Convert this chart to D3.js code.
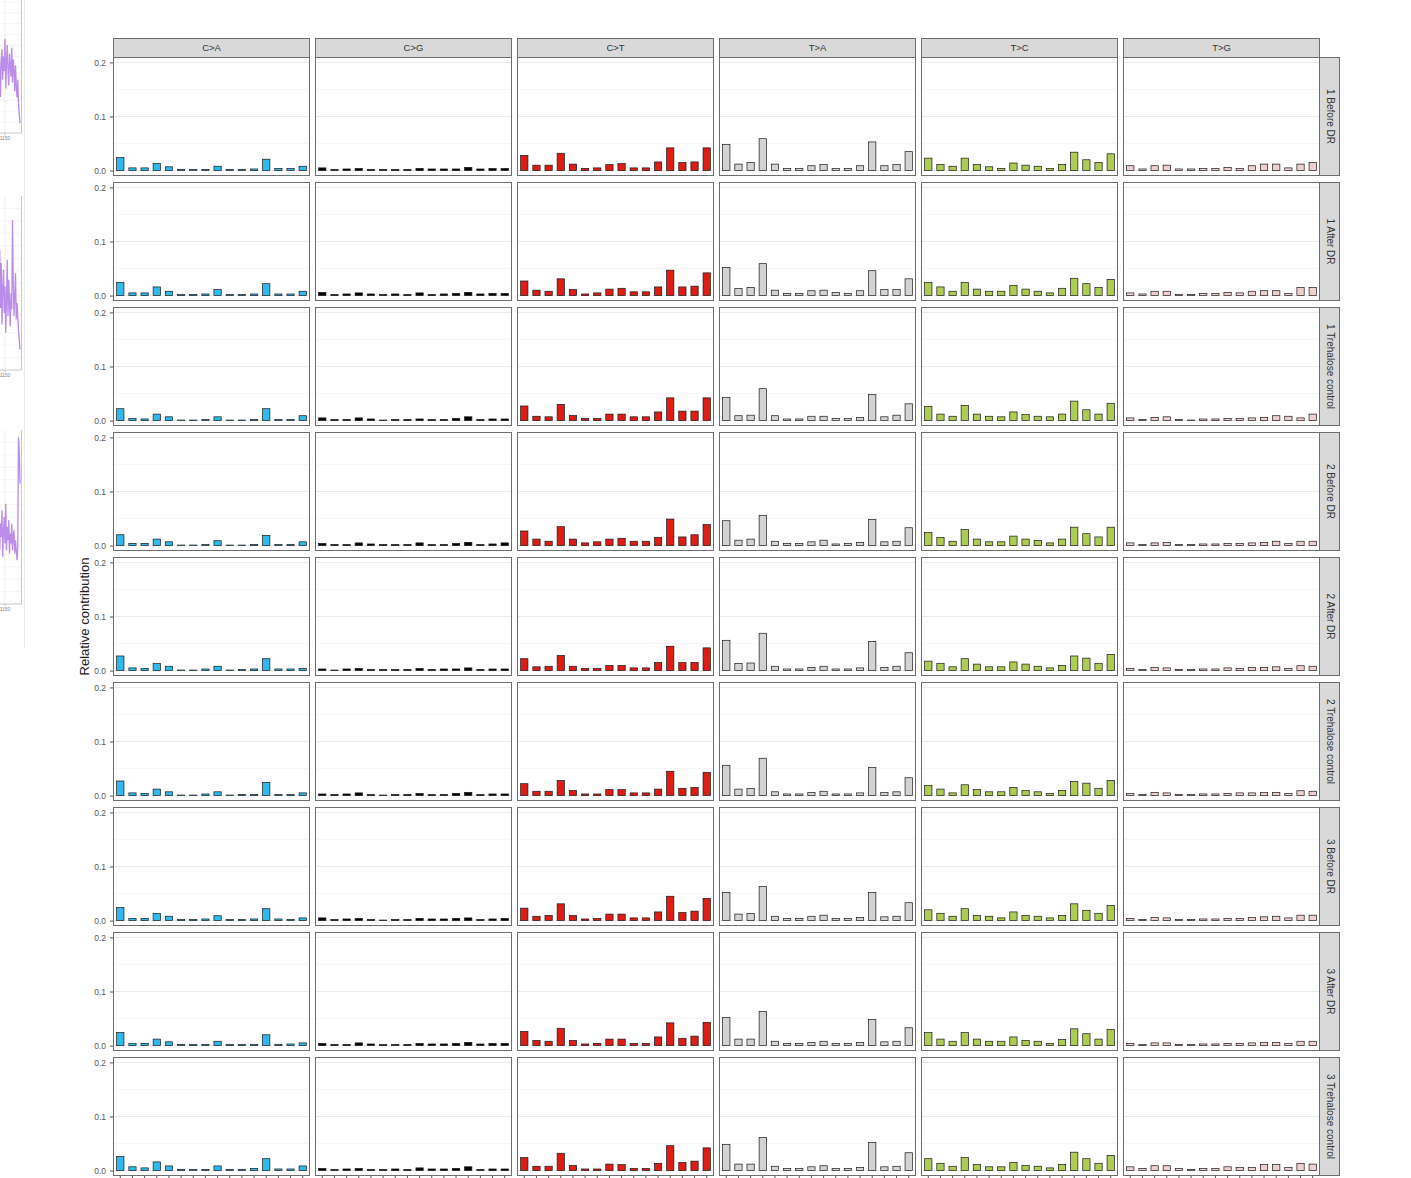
<!DOCTYPE html>
<html>
<head>
<meta charset="utf-8">
<script src="https://cdn.jsdelivr.net/npm/d3@7"></script>
<style>
  html, body { margin: 0; padding: 0; background: #fff; }
  svg { display: block; font-family: "Liberation Sans", Arial, sans-serif; }
</style>
</head>
<body>
<svg id="chart" width="1411" height="1178"></svg>
<script>
// ---- categories ----
const mutationTypes = ["C>A", "C>G", "C>T", "T>A", "T>C", "T>G"];
const typeColors = ["#2EBAED", "#000000", "#DE1C14", "#D4D2D2", "#ADCC54", "#F0D0CE"];
const samples = ["1 Before DR", "1 After DR", "1 Trehalose control",
                 "2 Before DR", "2 After DR", "2 Trehalose control",
                 "3 Before DR", "3 After DR", "3 Trehalose control"];
const contexts = ["A.A", "A.C", "A.G", "A.T", "C.A", "C.C", "C.G", "C.T",
                  "G.A", "G.C", "G.G", "G.T", "T.A", "T.C", "T.G", "T.T"];
const yTicks = [0, 0.1, 0.2];
const yMinor = [0.05, 0.15];

// ---- relative contribution per sample, 16 contexts for each of the six types ----
const before1 = [
  0.024,0.005,0.005,0.013,0.007,0.002,0.002,0.002,0.008,0.002,0.002,0.003,0.021,0.004,0.004,0.008,
  0.005,0.002,0.003,0.004,0.002,0.002,0.002,0.002,0.004,0.003,0.003,0.003,0.006,0.003,0.004,0.004,
  0.028,0.010,0.010,0.032,0.012,0.004,0.005,0.011,0.013,0.005,0.005,0.016,0.042,0.015,0.016,0.042,
  0.048,0.012,0.015,0.059,0.012,0.004,0.004,0.009,0.011,0.004,0.004,0.009,0.053,0.009,0.011,0.035,
  0.023,0.011,0.008,0.023,0.011,0.007,0.004,0.014,0.010,0.008,0.004,0.011,0.034,0.020,0.015,0.031,
  0.009,0.003,0.009,0.010,0.003,0.003,0.004,0.004,0.006,0.004,0.009,0.012,0.012,0.005,0.012,0.015];
const after1 = [
  0.024,0.005,0.005,0.016,0.008,0.002,0.002,0.003,0.011,0.002,0.002,0.003,0.022,0.003,0.003,0.008,
  0.006,0.002,0.003,0.005,0.003,0.002,0.003,0.002,0.005,0.002,0.003,0.004,0.006,0.003,0.004,0.004,
  0.027,0.010,0.008,0.031,0.011,0.003,0.005,0.012,0.0135,0.007,0.007,0.016,0.047,0.016,0.0175,0.042,
  0.052,0.013,0.015,0.059,0.010,0.004,0.004,0.009,0.010,0.006,0.004,0.009,0.046,0.011,0.011,0.031,
  0.024,0.016,0.008,0.024,0.012,0.008,0.008,0.019,0.012,0.008,0.005,0.0135,0.032,0.022,0.015,0.030,
  0.005,0.003,0.008,0.008,0.002,0.002,0.004,0.004,0.006,0.005,0.008,0.009,0.009,0.004,0.015,0.015];
const trehalose1 = [
  0.022,0.004,0.003,0.012,0.007,0.001,0.001,0.002,0.007,0.001,0.001,0.002,0.022,0.002,0.002,0.009,
  0.005,0.002,0.002,0.005,0.003,0.001,0.002,0.002,0.003,0.002,0.002,0.004,0.007,0.002,0.003,0.003,
  0.027,0.008,0.007,0.030,0.0095,0.004,0.004,0.012,0.012,0.007,0.007,0.016,0.042,0.0175,0.0175,0.042,
  0.043,0.009,0.010,0.059,0.009,0.003,0.003,0.008,0.008,0.004,0.004,0.006,0.048,0.007,0.010,0.031,
  0.026,0.012,0.008,0.028,0.012,0.008,0.007,0.016,0.011,0.008,0.007,0.012,0.036,0.020,0.012,0.032,
  0.005,0.002,0.006,0.007,0.002,0.001,0.003,0.003,0.004,0.004,0.005,0.006,0.009,0.008,0.005,0.012];
const before2 = [
  0.020,0.004,0.004,0.012,0.007,0.001,0.001,0.002,0.009,0.001,0.001,0.002,0.019,0.002,0.002,0.007,
  0.004,0.002,0.002,0.005,0.003,0.002,0.002,0.002,0.005,0.002,0.002,0.004,0.006,0.002,0.003,0.005,
  0.027,0.012,0.008,0.035,0.012,0.005,0.007,0.012,0.0135,0.008,0.008,0.015,0.049,0.016,0.020,0.039,
  0.046,0.010,0.012,0.056,0.008,0.004,0.004,0.007,0.010,0.003,0.004,0.006,0.048,0.007,0.008,0.033,
  0.024,0.015,0.008,0.030,0.012,0.007,0.007,0.0175,0.012,0.0095,0.005,0.012,0.034,0.022,0.016,0.034,
  0.005,0.002,0.005,0.006,0.002,0.002,0.003,0.003,0.004,0.004,0.005,0.006,0.008,0.004,0.008,0.008];
const after2 = [
  0.027,0.005,0.004,0.013,0.008,0.001,0.001,0.003,0.008,0.001,0.002,0.003,0.022,0.003,0.003,0.004,
  0.003,0.001,0.003,0.004,0.002,0.002,0.002,0.002,0.004,0.002,0.003,0.003,0.005,0.002,0.003,0.003,
  0.022,0.007,0.008,0.028,0.008,0.004,0.004,0.0095,0.0095,0.005,0.005,0.015,0.045,0.015,0.015,0.042,
  0.056,0.013,0.014,0.069,0.008,0.003,0.003,0.006,0.008,0.003,0.003,0.005,0.054,0.006,0.008,0.033,
  0.0175,0.0135,0.007,0.022,0.012,0.007,0.007,0.016,0.012,0.008,0.005,0.0095,0.027,0.023,0.0135,0.030,
  0.004,0.002,0.006,0.005,0.002,0.002,0.003,0.003,0.005,0.004,0.006,0.006,0.007,0.004,0.009,0.008];
const trehalose2 = [
  0.027,0.005,0.004,0.012,0.007,0.001,0.001,0.003,0.007,0.001,0.002,0.002,0.024,0.002,0.002,0.005,
  0.003,0.002,0.003,0.005,0.002,0.001,0.002,0.002,0.004,0.002,0.002,0.004,0.006,0.002,0.003,0.003,
  0.022,0.008,0.008,0.028,0.0095,0.003,0.003,0.011,0.011,0.005,0.005,0.012,0.045,0.0135,0.015,0.043,
  0.056,0.012,0.013,0.069,0.007,0.003,0.003,0.006,0.008,0.003,0.003,0.005,0.052,0.006,0.007,0.033,
  0.019,0.012,0.005,0.020,0.011,0.007,0.007,0.015,0.0095,0.007,0.004,0.0095,0.026,0.023,0.0135,0.028,
  0.004,0.002,0.006,0.005,0.002,0.002,0.003,0.003,0.004,0.005,0.005,0.006,0.006,0.004,0.009,0.008];
const before3 = [
  0.024,0.004,0.004,0.013,0.008,0.002,0.002,0.003,0.009,0.002,0.002,0.003,0.022,0.003,0.002,0.005,
  0.005,0.002,0.003,0.004,0.002,0.001,0.002,0.002,0.004,0.003,0.003,0.004,0.005,0.002,0.003,0.004,
  0.023,0.008,0.0095,0.031,0.0095,0.003,0.004,0.012,0.012,0.005,0.005,0.016,0.045,0.015,0.0175,0.041,
  0.052,0.012,0.013,0.063,0.008,0.004,0.004,0.008,0.010,0.004,0.004,0.006,0.052,0.007,0.008,0.033,
  0.020,0.0135,0.008,0.022,0.0095,0.008,0.005,0.016,0.0095,0.008,0.005,0.0095,0.031,0.019,0.0135,0.028,
  0.004,0.002,0.006,0.005,0.002,0.002,0.003,0.003,0.004,0.004,0.006,0.007,0.008,0.005,0.010,0.010];
const after3 = [
  0.024,0.004,0.004,0.012,0.007,0.002,0.002,0.002,0.008,0.002,0.002,0.002,0.020,0.002,0.003,0.005,
  0.004,0.002,0.002,0.005,0.003,0.002,0.002,0.002,0.004,0.003,0.003,0.004,0.006,0.003,0.004,0.004,
  0.026,0.0095,0.008,0.032,0.0095,0.003,0.004,0.012,0.012,0.004,0.004,0.016,0.042,0.0135,0.0175,0.043,
  0.052,0.012,0.012,0.063,0.008,0.004,0.004,0.006,0.008,0.004,0.004,0.006,0.048,0.007,0.008,0.033,
  0.024,0.012,0.008,0.024,0.012,0.008,0.008,0.016,0.0095,0.008,0.004,0.011,0.031,0.022,0.012,0.030,
  0.004,0.002,0.005,0.005,0.002,0.002,0.003,0.003,0.004,0.004,0.005,0.006,0.006,0.004,0.008,0.008];
const trehalose3 = [
  0.026,0.007,0.005,0.016,0.0086,0.002,0.002,0.002,0.0086,0.002,0.002,0.004,0.022,0.003,0.003,0.0086,
  0.004,0.002,0.003,0.004,0.002,0.002,0.003,0.002,0.005,0.003,0.003,0.004,0.007,0.002,0.003,0.003,
  0.024,0.008,0.008,0.032,0.0095,0.003,0.003,0.012,0.011,0.004,0.004,0.0135,0.046,0.015,0.0175,0.042,
  0.048,0.012,0.012,0.061,0.008,0.004,0.004,0.007,0.009,0.004,0.004,0.006,0.052,0.007,0.008,0.033,
  0.022,0.0135,0.008,0.024,0.011,0.007,0.007,0.015,0.0095,0.008,0.005,0.011,0.034,0.022,0.0135,0.028,
  0.007,0.004,0.009,0.009,0.004,0.002,0.004,0.004,0.007,0.006,0.006,0.011,0.011,0.006,0.013,0.012];
const sampleValues = [before1, after1, trehalose1, before2, after2, trehalose2, before3, after3, trehalose3];

// ---- traces of the neighbouring figure on the left margin ----
const traceX = [1139,1139.5,1140,1140.5,1141,1141.5,1142,1142.5,1143,1143.5,1144,1144.5,1145,1145.5,
                1146,1146.5,1147,1147.5,1148,1148.5,1149,1149.5,1150,1150.5,1151,1151.5,1152,1152.5,
                1153,1153.5,1154,1154.5,1155,1155.5,1156,1156.5,1157,1157.5,1158,1158.5,1159,1159.5,1160];
const traceA = [0.92,0.80,0.86,0.66,0.74,0.58,0.70,0.50,0.62,0.44,0.68,0.36,0.56,0.30,0.60,0.42,0.22,0.48,0.55,0.34,
                0.50,0.40,0.62,0.28,0.46,0.58,0.40,0.30,0.52,0.44,0.36,0.56,0.32,0.48,0.40,0.26,0.44,0.30,0.22,0.34,
                0.18,0.10,0.04];
const traceB = [0.50,0.72,0.40,0.85,0.55,0.30,0.66,0.48,0.78,0.36,0.60,0.92,0.45,0.28,0.52,0.70,0.35,0.62,0.25,0.46,
                0.58,0.32,0.48,0.20,0.40,0.64,0.30,0.52,0.38,0.24,0.44,0.34,0.88,0.50,0.30,0.42,0.56,0.28,0.38,0.30,
                0.22,0.16,0.10];
const traceC = [0.40,0.58,0.30,0.50,0.66,0.36,0.52,0.44,0.72,0.34,0.48,0.28,0.56,0.40,0.62,0.30,0.46,0.38,0.54,0.26,
                0.42,0.50,0.34,0.58,0.30,0.44,0.36,0.48,0.28,0.40,0.34,0.46,0.30,0.38,0.42,0.28,0.36,0.30,0.24,0.32,
                0.98,0.90,0.70];

const svg = d3.select("#chart");

// layout of the facet grid
const gridLeft = 113, gridTop = 57;
const panelW = 197, panelH = 119, gapX = 5, gapY = 6;
const stripH = 19, stripW = 20;

const x = d3.scaleBand().domain(contexts).range([0, panelW]).paddingInner(0.4).paddingOuter(0.3);
const y = d3.scaleLinear().domain([-0.01, 0.21]).range([panelH, 0]);

// left-margin traces
const traces = [
  { top: -20, h: 153, values: traceA },
  { top: 196, h: 174, values: traceB },
  { top: 430, h: 174, values: traceC }
];
const tx = d3.scaleLinear().domain([1150, 1160]).range([5, 20]);
svg.append("line").attr("x1", 24.5).attr("x2", 24.5).attr("y1", 0).attr("y2", 648)
  .attr("stroke", "#ececec").attr("stroke-width", 1);
traces.forEach(t => {
  const g = svg.append("g").attr("transform", `translate(0,${t.top})`);
  const ty = d3.scaleLinear().domain([0, 1]).range([t.h - 4, 4]);
  for (let k = 1; k < 14; k++) {
    g.append("line").attr("x1", 0).attr("x2", 21).attr("y1", t.h * k / 14).attr("y2", t.h * k / 14)
      .attr("stroke", "#eeeeee").attr("stroke-width", 0.6);
  }
  g.append("line").attr("x1", tx(1150)).attr("x2", tx(1150)).attr("y1", 0).attr("y2", t.h)
    .attr("stroke", "#e6e6e6").attr("stroke-width", 0.6);
  g.append("path").datum(d3.zip(traceX, t.values))
    .attr("fill", "none").attr("stroke", "#b47fe8").attr("stroke-width", 1.3).attr("opacity", 0.9)
    .attr("d", d3.line().x(d => tx(d[0])).y(d => ty(d[1])));
  g.append("path").attr("d", `M0,${t.h}H21.5V0`).attr("fill", "none")
    .attr("stroke", "#bdbdbd").attr("stroke-width", 0.8);
  g.append("line").attr("x1", tx(1150)).attr("x2", tx(1150)).attr("y1", t.h).attr("y2", t.h + 2)
    .attr("stroke", "#999").attr("stroke-width", 0.6);
  g.append("text").attr("x", tx(1150)).attr("y", t.h + 7).attr("text-anchor", "middle")
    .attr("font-size", 5).attr("fill", "#888").text("1150");
});

// facet panels
samples.forEach((sample, r) => {
  const vals = sampleValues[r];
  mutationTypes.forEach((type, c) => {
    const px = gridLeft + c * (panelW + gapX);
    const py = gridTop + r * (panelH + gapY);
    const g = svg.append("g").attr("transform", `translate(${px},${py})`);

    g.append("rect").attr("width", panelW).attr("height", panelH).attr("fill", "#fff");
    g.selectAll("line.minor").data(yMinor).join("line").attr("class", "minor")
      .attr("x1", 0).attr("x2", panelW).attr("y1", d => y(d)).attr("y2", d => y(d))
      .attr("stroke", "#f2f2f2").attr("stroke-width", 0.6);
    g.selectAll("line.major").data(yTicks).join("line").attr("class", "major")
      .attr("x1", 0).attr("x2", panelW).attr("y1", d => y(d)).attr("y2", d => y(d))
      .attr("stroke", "#ebebeb").attr("stroke-width", 1);

    const data = contexts.map((ctx, i) => ({ ctx, v: vals[c * 16 + i] }));
    g.selectAll("rect.bar").data(data).join("rect").attr("class", "bar")
      .attr("x", d => x(d.ctx)).attr("width", x.bandwidth())
      .attr("y", d => y(d.v)).attr("height", d => y(0) - y(d.v))
      .attr("fill", typeColors[c]).attr("stroke", "#1a1a1a").attr("stroke-width", 0.7);

    g.append("rect").attr("x", 0.5).attr("y", 0.5).attr("width", panelW - 1).attr("height", panelH - 1)
      .attr("fill", "none").attr("stroke", "#6e6e6e").attr("stroke-width", 1);

    if (c === 0) {
      const ax = g.append("g").call(d3.axisLeft(y).tickValues(yTicks).tickFormat(d3.format(".1f")).tickSize(3));
      ax.select(".domain").remove();
      ax.selectAll("line").attr("stroke", "#555");
      ax.selectAll("text").attr("fill", "#5a5a5a").attr("font-size", 8.5).attr("dx", "-1")
        .style("font-family", "'Liberation Sans', Arial, sans-serif");
    }
    if (r === samples.length - 1) {
      const ax = g.append("g").attr("transform", `translate(0,${panelH})`)
        .call(d3.axisBottom(x).tickSize(3).tickFormat(""));
      ax.select(".domain").remove();
      ax.selectAll("line").attr("stroke", "#555");
    }
    if (r === 0) {
      const s = svg.append("g").attr("transform", `translate(${px},${py - stripH})`);
      s.append("rect").attr("x", 0.5).attr("y", 0.5).attr("width", panelW - 1).attr("height", stripH)
        .attr("fill", "#d9d9d9").attr("stroke", "#6e6e6e").attr("stroke-width", 1);
      s.append("text").attr("x", panelW / 2).attr("y", stripH / 2 + 3.5).attr("text-anchor", "middle")
        .attr("font-size", 9.5).attr("fill", "#333").text(type);
    }
    if (c === mutationTypes.length - 1) {
      const s = svg.append("g").attr("transform", `translate(${px + panelW},${py})`);
      s.append("rect").attr("x", -0.5).attr("y", 0.5).attr("width", stripW).attr("height", panelH - 1)
        .attr("fill", "#d9d9d9").attr("stroke", "#6e6e6e").attr("stroke-width", 1);
      s.append("text").attr("transform", `translate(${stripW / 2 - 3.5},${panelH / 2}) rotate(90)`)
        .attr("text-anchor", "middle").attr("font-size", 10).attr("fill", "#333").text(sample);
    }
  });
});

// y-axis title
const gridMidY = gridTop + (samples.length * (panelH + gapY) - gapY) / 2;
svg.append("text").attr("transform", `translate(89,${gridMidY}) rotate(-90)`)
  .attr("text-anchor", "middle").attr("font-size", 13).attr("fill", "#222")
  .text("Relative contribution");
</script>
</body>
</html>
